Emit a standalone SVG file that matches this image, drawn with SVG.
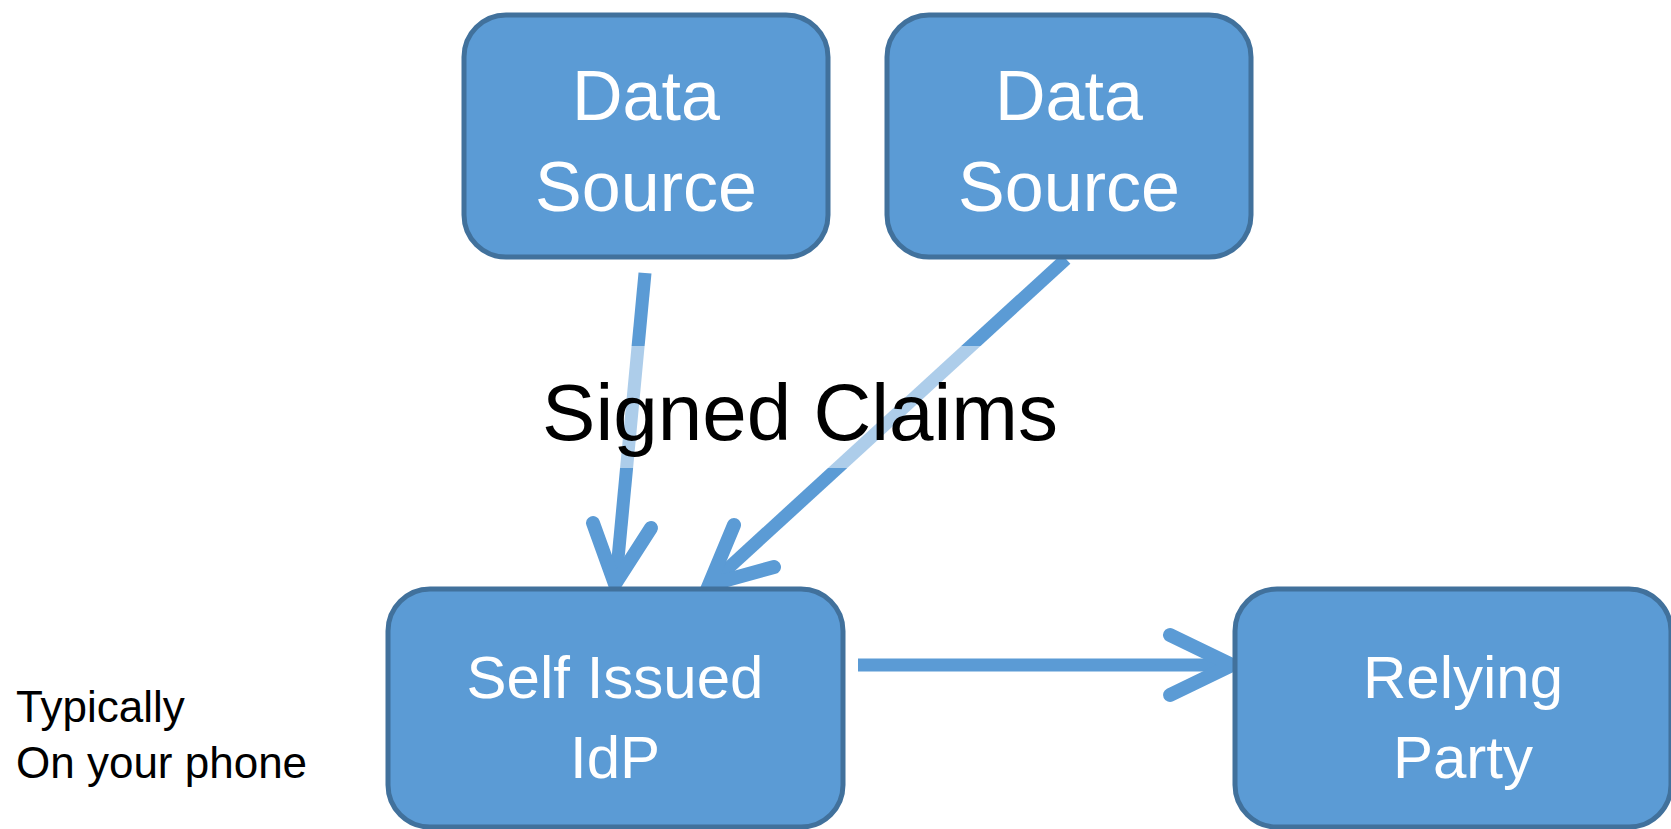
<svg xmlns="http://www.w3.org/2000/svg" width="1671" height="829" viewBox="0 0 1671 829">
<style>
.box{fill:#5B9BD5;stroke:#41719C;stroke-width:5}
.lbl{fill:#ffffff;font-family:"Liberation Sans",Arial,sans-serif;text-anchor:middle}
.big{font-size:70px}
.mid{font-size:60px}
.conn{fill:none;stroke:#5B9BD5;stroke-width:13}
.head{fill:none;stroke:#5B9BD5;stroke-width:14;stroke-linecap:round;stroke-linejoin:miter}
.note{fill:#000000;font-family:"Liberation Sans",Arial,sans-serif}
</style>
<rect width="1671" height="829" fill="#ffffff"/>
<g id="connectors">
<line class="conn" x1="645" y1="273" x2="616" y2="580"/>
<polyline class="head" points="593,523 615,584 651,528"/>
<line class="conn" x1="1066" y1="259" x2="712" y2="583"/>
<polyline class="head" points="734,525 709,585 774,567"/>
<line class="conn" x1="858" y1="665" x2="1228" y2="665"/>
<polyline class="head" points="1170,635 1232,665 1170,695"/>
</g>
<g id="label-signed-claims">
<rect x="540" y="346" width="520" height="122" fill="#ffffff" fill-opacity="0.5"/>
<text class="note" x="800" y="440" font-size="80" text-anchor="middle">Signed Claims</text>
</g>
<g id="node-data-source-1">
<rect class="box" x="464" y="15" width="364" height="242" rx="42" ry="42"/>
<text class="lbl big" x="646" y="120">Data</text>
<text class="lbl big" x="646" y="211">Source</text>
</g>
<g id="node-data-source-2">
<rect class="box" x="887" y="15" width="364" height="242" rx="42" ry="42"/>
<text class="lbl big" x="1069" y="120">Data</text>
<text class="lbl big" x="1069" y="211">Source</text>
</g>
<g id="node-self-issued-idp">
<rect class="box" x="388" y="589" width="455" height="238" rx="42" ry="42"/>
<text class="lbl mid" x="615" y="698">Self Issued</text>
<text class="lbl mid" x="615" y="778">IdP</text>
</g>
<g id="node-relying-party">
<rect class="box" x="1235" y="589" width="436" height="238" rx="42" ry="42"/>
<text class="lbl mid" x="1463" y="698">Relying</text>
<text class="lbl mid" x="1463" y="778">Party</text>
</g>
<g id="note-phone">
<text class="note" x="16" y="722" font-size="44">Typically</text>
<text class="note" x="16" y="778" font-size="44">On your phone</text>
</g>
</svg>
